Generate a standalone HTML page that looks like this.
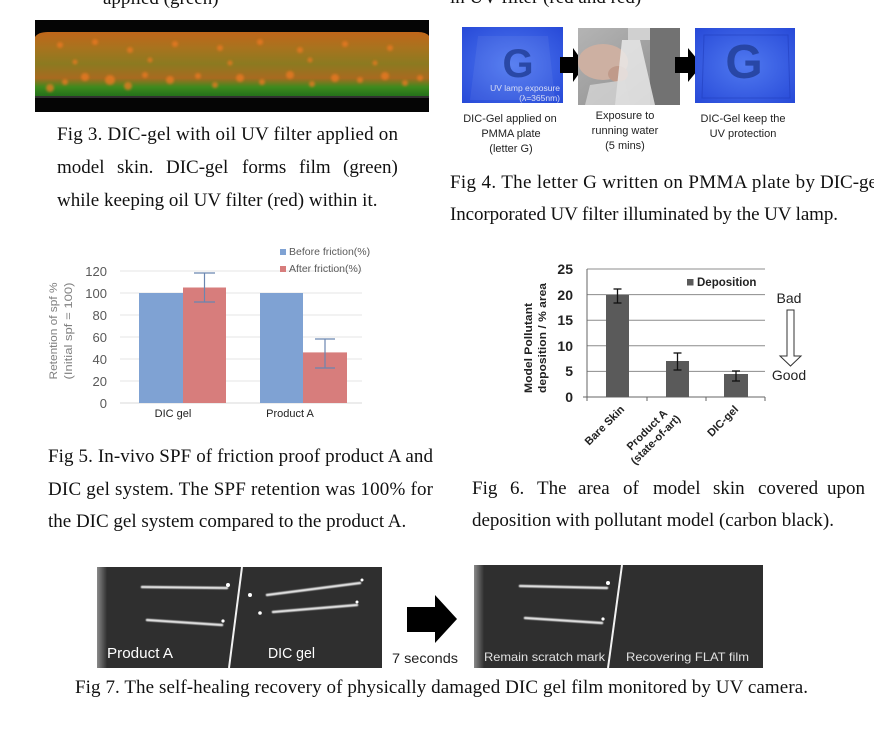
<!DOCTYPE html>
<html><head><meta charset="utf-8"><style>
html,body{margin:0;padding:0;background:#fff;}
svg{display:block;}
.serif{font-family:"Liberation Serif",serif;font-size:19px;fill:#111;}
.sans{font-family:"Liberation Sans",sans-serif;}
</style></head><body>
<svg width="874" height="742" viewBox="0 0 874 742" xmlns="http://www.w3.org/2000/svg">
<defs>
<linearGradient id="mic" x1="0" y1="0" x2="0" y2="1">
 <stop offset="0" stop-color="#c0661a"/>
 <stop offset="0.25" stop-color="#a8731e"/>
 <stop offset="0.5" stop-color="#8c7a20"/>
 <stop offset="0.72" stop-color="#a86a20"/>
 <stop offset="0.86" stop-color="#3e8a1e"/>
 <stop offset="1" stop-color="#24701a"/>
</linearGradient>
<filter id="blur1"><feGaussianBlur stdDeviation="1.3"/></filter>
<filter id="blur2"><feGaussianBlur stdDeviation="0.6"/></filter>
<radialGradient id="blue1" cx="0.5" cy="0.5" r="0.75">
 <stop offset="0" stop-color="#5079f0"/>
 <stop offset="1" stop-color="#2446d6"/>
</radialGradient>
<linearGradient id="photo" x1="0" y1="0" x2="1" y2="1">
 <stop offset="0" stop-color="#b4b4b4"/>
 <stop offset="1" stop-color="#8a8a8a"/>
</linearGradient>
<linearGradient id="edge" x1="0" y1="0" x2="1" y2="0">
 <stop offset="0" stop-color="#8a8a8a"/>
 <stop offset="1" stop-color="#303030"/>
</linearGradient>
</defs>

<!-- top cut-off text -->
<text class="serif" x="103" y="4">applied (green)</text>
<text class="serif" x="450" y="3">in UV filter (red and red)</text>

<!-- Fig 3 microscope -->
<rect x="35" y="20" width="394" height="92" fill="#050505"/>
<path d="M35,37 Q38,32 48,32 L418,32 Q426,32 429,36 L429,96 L35,96 Z" fill="url(#mic)"/>
<g fill="#ee7a22" opacity="0.75" filter="url(#blur1)">
 <circle cx="50" cy="88" r="4"/><circle cx="65" cy="82" r="3"/><circle cx="85" cy="77" r="4"/>
 <circle cx="110" cy="80" r="5"/><circle cx="128" cy="86" r="4"/><circle cx="145" cy="75" r="3"/>
 <circle cx="170" cy="80" r="4"/><circle cx="198" cy="76" r="3"/><circle cx="215" cy="85" r="3"/>
 <circle cx="240" cy="78" r="4"/><circle cx="262" cy="82" r="3"/><circle cx="290" cy="75" r="4"/>
 <circle cx="312" cy="84" r="3"/><circle cx="335" cy="78" r="4"/><circle cx="360" cy="80" r="3"/>
 <circle cx="385" cy="76" r="4"/><circle cx="405" cy="83" r="3"/><circle cx="420" cy="78" r="3"/>
 <circle cx="60" cy="45" r="3"/><circle cx="95" cy="42" r="3"/><circle cx="130" cy="50" r="3"/>
 <circle cx="175" cy="44" r="3"/><circle cx="220" cy="48" r="3"/><circle cx="260" cy="42" r="3"/>
 <circle cx="300" cy="50" r="3"/><circle cx="345" cy="44" r="3"/><circle cx="390" cy="48" r="3"/>
 <circle cx="75" cy="62" r="2.5"/><circle cx="150" cy="60" r="2.5"/><circle cx="230" cy="63" r="2.5"/>
 <circle cx="310" cy="60" r="2.5"/><circle cx="375" cy="63" r="2.5"/>
</g>
<line x1="35" y1="97" x2="429" y2="97" stroke="#5a5a5a" stroke-width="1"/>

<!-- Fig 3 caption -->
<text class="serif" x="57" y="140" textLength="341" lengthAdjust="spacing">Fig 3. DIC-gel with oil UV filter applied on</text>
<text class="serif" y="173"><tspan x="57">model</tspan><tspan x="117">skin.</tspan><tspan x="166">DIC-gel</tspan><tspan x="242">forms</tspan><tspan x="299">film</tspan><tspan x="343">(green)</tspan></text>
<text class="serif" x="57" y="206">while keeping oil UV filter (red) within it.</text>

<!-- Fig 4 images -->
<rect x="462" y="27" width="101" height="76" fill="url(#blue1)"/>
<path d="M478,36 L548,36 L555,100 L470,100 Z" fill="#ffffff" opacity="0.06"/>
<text class="sans" x="518" y="77" text-anchor="middle" font-size="40" font-weight="bold" fill="#23409a" opacity="0.85">G</text>
<text class="sans" x="560" y="91" text-anchor="end" font-size="8.5" fill="#d8ddf5">UV lamp exposure</text>
<text class="sans" x="560" y="101" text-anchor="end" font-size="8.5" fill="#d8ddf5">(λ=365nm)</text>
<polygon points="560,57 573,57 573,48 585,65 573,82 573,73 560,73" fill="#000"/>

<rect x="578" y="28" width="102" height="77" fill="url(#photo)"/>
<rect x="650" y="28" width="30" height="77" fill="#727272"/>
<rect x="628" y="28" width="22" height="12" fill="#d0d0d0"/>
<ellipse cx="603" cy="62" rx="25" ry="18" fill="#cdb0a2"/>
<ellipse cx="618" cy="74" rx="10" ry="8" fill="#c09a8a"/>
<path d="M622,40 L640,40 L655,105 L615,105 Z" fill="#ececec" opacity="0.8"/>
<path d="M590,85 L625,80 L630,105 L585,105 Z" fill="#dddddd" opacity="0.7"/>
<polygon points="675,57 688,57 688,48 702,65 688,82 688,73 675,73" fill="#000"/>

<rect x="695" y="28" width="100" height="75" fill="url(#blue1)"/>
<path d="M704,35 L788,35 L790,98 L702,98 Z" fill="none" stroke="#1e3ab8" stroke-width="1" opacity="0.5"/>
<text class="sans" x="744" y="78" text-anchor="middle" font-size="48" font-weight="bold" fill="#23409a" opacity="0.85">G</text>

<!-- Fig 4 labels -->
<g class="sans" font-size="11" fill="#222" text-anchor="middle">
 <text x="510" y="122">DIC-Gel applied on</text>
 <text x="511" y="137">PMMA plate</text>
 <text x="511" y="152">(letter G)</text>
 <text x="625" y="119">Exposure to</text>
 <text x="625" y="134">running water</text>
 <text x="625" y="149">(5 mins)</text>
 <text x="743" y="122">DIC-Gel keep the</text>
 <text x="743" y="137">UV protection</text>
</g>

<!-- Fig 4 caption -->
<text class="serif" y="188"><tspan x="450" textLength="365" lengthAdjust="spacing">Fig 4. The letter G written on PMMA plate by</tspan><tspan x="820">DIC-gel</tspan></text>
<text class="serif" x="450" y="220" textLength="388" lengthAdjust="spacing">Incorporated UV filter illuminated by the UV lamp.</text>

<!-- Fig 5 chart -->
<g stroke="#e6e6e6" stroke-width="1">
 <line x1="120" y1="271" x2="362" y2="271"/>
 <line x1="120" y1="293" x2="362" y2="293"/>
 <line x1="120" y1="315" x2="362" y2="315"/>
 <line x1="120" y1="337" x2="362" y2="337"/>
 <line x1="120" y1="359" x2="362" y2="359"/>
 <line x1="120" y1="381" x2="362" y2="381"/>
</g>
<line x1="120" y1="403" x2="362" y2="403" stroke="#d9d9d9" stroke-width="1"/>
<g class="sans" font-size="13" fill="#595959" text-anchor="end">
 <text x="107" y="276">120</text>
 <text x="107" y="298">100</text>
 <text x="107" y="320">80</text>
 <text x="107" y="342">60</text>
 <text x="107" y="364">40</text>
 <text x="107" y="386">20</text>
 <text x="107" y="408">0</text>
</g>
<rect x="139" y="293" width="44" height="110" fill="#7fa2d3"/>
<rect x="183" y="287.5" width="43" height="115.5" fill="#d77d7c"/>
<rect x="260" y="293" width="43" height="110" fill="#7fa2d3"/>
<rect x="303" y="352.4" width="44" height="50.6" fill="#d77d7c"/>
<g stroke="#6a86b0" stroke-width="1.2">
 <line x1="204.5" y1="273" x2="204.5" y2="302"/>
 <line x1="194" y1="273" x2="215" y2="273"/>
 <line x1="194" y1="302" x2="215" y2="302"/>
 <line x1="325" y1="339" x2="325" y2="368"/>
 <line x1="315" y1="339" x2="335" y2="339"/>
 <line x1="315" y1="368" x2="335" y2="368"/>
</g>
<rect x="280" y="249" width="6" height="6" fill="#7fa2d3"/>
<rect x="280" y="266" width="6" height="6" fill="#d77d7c"/>
<g class="sans" font-size="10.5" fill="#595959">
 <text x="289" y="255">Before friction(%)</text>
 <text x="289" y="272">After friction(%)</text>
</g>
<g class="sans" font-size="11" fill="#222" text-anchor="middle">
 <text x="173" y="417">DIC gel</text>
 <text x="290" y="417">Product A</text>
</g>
<g class="sans" font-size="11" fill="#808080" text-anchor="middle">
 <text transform="translate(57,331) rotate(-90)" textLength="97" lengthAdjust="spacingAndGlyphs">Retention of spf %</text>
 <text transform="translate(72,331) rotate(-90)" textLength="97" lengthAdjust="spacingAndGlyphs">(Initial spf = 100)</text>
</g>

<!-- Fig 5 caption -->
<text class="serif" x="48" y="462" textLength="385" lengthAdjust="spacing">Fig 5. In-vivo SPF of friction proof product A and</text>
<text class="serif" x="48" y="495" textLength="385" lengthAdjust="spacing">DIC gel system. The SPF retention was 100% for</text>
<text class="serif" x="48" y="527">the DIC gel system compared to the product A.</text>

<!-- Fig 6 chart -->
<g stroke="#8c8c8c" stroke-width="1">
 <line x1="587" y1="269" x2="765" y2="269"/>
 <line x1="587" y1="294.6" x2="765" y2="294.6"/>
 <line x1="587" y1="320.2" x2="765" y2="320.2"/>
 <line x1="587" y1="345.8" x2="765" y2="345.8"/>
 <line x1="587" y1="371.4" x2="765" y2="371.4"/>
</g>
<g stroke="#666" stroke-width="1">
 <line x1="587" y1="269" x2="587" y2="397"/>
 <line x1="583" y1="397" x2="765" y2="397"/>
 <line x1="587" y1="397" x2="587" y2="401"/>
 <line x1="647" y1="397" x2="647" y2="401"/>
 <line x1="706" y1="397" x2="706" y2="401"/>
 <line x1="765" y1="397" x2="765" y2="401"/>
</g>
<g class="sans" font-size="14" font-weight="bold" fill="#222" text-anchor="end">
 <text x="573" y="274">25</text>
 <text x="573" y="300">20</text>
 <text x="573" y="325">15</text>
 <text x="573" y="351">10</text>
 <text x="573" y="376">5</text>
 <text x="573" y="402">0</text>
</g>
<rect x="606" y="295" width="23" height="102" fill="#5a5a5a"/>
<rect x="666" y="361" width="23" height="36" fill="#5a5a5a"/>
<rect x="724" y="374" width="24" height="23" fill="#5a5a5a"/>
<g stroke="#111" stroke-width="1.3">
 <line x1="617.5" y1="289" x2="617.5" y2="303"/>
 <line x1="613.5" y1="289" x2="621.5" y2="289"/>
 <line x1="613.5" y1="303" x2="621.5" y2="303"/>
 <line x1="677.5" y1="353" x2="677.5" y2="370"/>
 <line x1="673.5" y1="353" x2="681.5" y2="353"/>
 <line x1="673.5" y1="370" x2="681.5" y2="370"/>
 <line x1="736" y1="371" x2="736" y2="381"/>
 <line x1="732" y1="371" x2="740" y2="371"/>
 <line x1="732" y1="381" x2="740" y2="381"/>
</g>
<rect x="687" y="279" width="6.5" height="6.5" fill="#5a5a5a"/>
<text class="sans" x="697" y="286" font-size="11.5" font-weight="bold" fill="#222">Deposition</text>
<g class="sans" font-size="11" font-weight="bold" fill="#222" text-anchor="middle">
 <text transform="translate(532,348) rotate(-90)" textLength="90" lengthAdjust="spacingAndGlyphs">Model Pollutant</text>
 <text transform="translate(546,338) rotate(-90)" textLength="110" lengthAdjust="spacingAndGlyphs">deposition / % area</text>
</g>
<g class="sans" font-size="11" font-weight="bold" fill="#222">
 <text transform="translate(625,410) rotate(-45)" text-anchor="end">Bare Skin</text>
 <g transform="translate(668,414) rotate(-45)">
  <text x="0" y="0" text-anchor="end">Product A</text>
  <text x="-27" y="13" text-anchor="middle">(state-of-art)</text>
 </g>
 <text transform="translate(739,410) rotate(-45)" text-anchor="end">DIC-gel</text>
</g>
<text class="sans" x="789" y="303" font-size="14" fill="#222" text-anchor="middle">Bad</text>
<polygon points="787,310 794,310 794,356 801,356 790.5,366 780,356 787,356" fill="#fff" stroke="#333" stroke-width="1"/>
<text class="sans" x="789" y="380" font-size="14" fill="#222" text-anchor="middle">Good</text>

<!-- Fig 6 caption -->
<text class="serif" y="494"><tspan x="472">Fig</tspan><tspan x="510">6.</tspan><tspan x="537">The</tspan><tspan x="578">area</tspan><tspan x="623">of</tspan><tspan x="653">model</tspan><tspan x="713">skin</tspan><tspan x="758">covered</tspan><tspan x="827">upon</tspan></text>
<text class="serif" x="472" y="526">deposition with pollutant model (carbon black).</text>

<!-- Fig 7 left image -->
<rect x="97" y="567" width="285" height="101" fill="#2f2f2f"/>
<rect x="97" y="567" width="10" height="101" fill="url(#edge)"/>
<line x1="242" y1="567" x2="229" y2="668" stroke="#f2f2f2" stroke-width="2"/>
<g stroke="#e6e6e6" stroke-width="2.5" stroke-linecap="round" fill="none" filter="url(#blur2)">
 <path d="M142,587 L227,588"/>
 <path d="M147,620 L222,625"/>
 <path d="M267,595 L360,583"/>
 <path d="M273,612 L357,605"/>
</g>
<g fill="#fff">
 <circle cx="228" cy="585" r="2"/><circle cx="223" cy="621" r="1.6"/>
 <circle cx="250" cy="595" r="2"/><circle cx="362" cy="580" r="1.5"/>
 <circle cx="260" cy="613" r="1.8"/><circle cx="357" cy="602" r="1.5"/>
</g>
<text class="sans" x="107" y="658" font-size="15" fill="#fff" textLength="66" lengthAdjust="spacingAndGlyphs">Product A</text>
<text class="sans" x="268" y="658" font-size="15" fill="#fff" textLength="47" lengthAdjust="spacingAndGlyphs">DIC gel</text>

<!-- Fig 7 arrow -->
<polygon points="407,607 435,607 435,595 457,619 435,643 435,632 407,632" fill="#000"/>
<text class="sans" x="392" y="663" font-size="14" fill="#222" textLength="66" lengthAdjust="spacingAndGlyphs">7 seconds</text>

<!-- Fig 7 right image -->
<rect x="474" y="565" width="289" height="103" fill="#2f2f2f"/>
<rect x="474" y="565" width="10" height="103" fill="url(#edge)"/>
<line x1="622" y1="565" x2="608" y2="668" stroke="#f2f2f2" stroke-width="2"/>
<g stroke="#e6e6e6" stroke-width="2.5" stroke-linecap="round" fill="none" filter="url(#blur2)">
 <path d="M520,586 L607,588"/>
 <path d="M525,618 L602,623"/>
</g>
<g fill="#fff">
 <circle cx="608" cy="583" r="2"/><circle cx="603" cy="619" r="1.6"/>
</g>
<text class="sans" x="484" y="661" font-size="12" fill="#e0e0e0" textLength="121" lengthAdjust="spacingAndGlyphs">Remain scratch mark</text>
<text class="sans" x="626" y="661" font-size="12" fill="#e0e0e0" textLength="123" lengthAdjust="spacingAndGlyphs">Recovering FLAT film</text>

<!-- Fig 7 caption -->
<text class="serif" x="75" y="693" textLength="733" lengthAdjust="spacing">Fig 7. The self-healing recovery of physically damaged DIC gel film monitored by UV camera.</text>
</svg>
</body></html>
